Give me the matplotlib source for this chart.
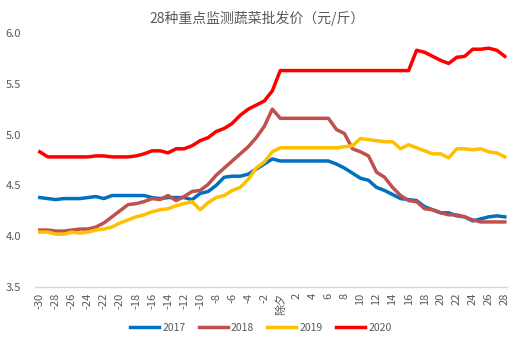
import matplotlib
matplotlib.use("Agg")
import matplotlib.pyplot as plt

plt.rcParams["font.family"] = ["Noto Sans CJK SC", "DejaVu Sans"]

# days relative to 除夕 (Chinese New Year's Eve)
days = list(range(-30, 29))

price_2017 = [4.38, 4.37, 4.36, 4.37, 4.37, 4.37, 4.38, 4.39, 4.37, 4.40,
              4.40, 4.40, 4.40, 4.40, 4.38, 4.37, 4.38, 4.38, 4.38, 4.36,
              4.42, 4.44, 4.50, 4.58, 4.59, 4.59, 4.61, 4.66, 4.71, 4.76,
              4.74, 4.74, 4.74, 4.74, 4.74, 4.74, 4.74, 4.71, 4.67, 4.62,
              4.57, 4.55, 4.48, 4.45, 4.41, 4.37, 4.36, 4.35, 4.29, 4.26,
              4.23, 4.23, 4.20, 4.19, 4.15, 4.17, 4.19, 4.20, 4.19]
price_2018 = [4.06, 4.06, 4.05, 4.05, 4.06, 4.07, 4.07, 4.09, 4.13, 4.19,
              4.25, 4.31, 4.32, 4.34, 4.37, 4.36, 4.40, 4.35, 4.39, 4.44,
              4.45, 4.51, 4.60, 4.67, 4.74, 4.81, 4.88, 4.97, 5.08, 5.25,
              5.16, 5.16, 5.16, 5.16, 5.16, 5.16, 5.16, 5.05, 5.01, 4.86,
              4.83, 4.79, 4.63, 4.58, 4.48, 4.40, 4.35, 4.34, 4.27, 4.26,
              4.23, 4.21, 4.21, 4.19, 4.16, 4.14, 4.14, 4.14, 4.14]
price_2019 = [4.04, 4.04, 4.02, 4.02, 4.04, 4.03, 4.04, 4.06, 4.07, 4.09,
              4.13, 4.16, 4.19, 4.21, 4.24, 4.26, 4.27, 4.30, 4.32, 4.34,
              4.26, 4.33, 4.38, 4.40, 4.45, 4.48, 4.56, 4.67, 4.73, 4.83,
              4.87, 4.87, 4.87, 4.87, 4.87, 4.87, 4.87, 4.87, 4.88, 4.89,
              4.96, 4.95, 4.94, 4.93, 4.93, 4.86, 4.90, 4.87, 4.84, 4.81,
              4.81, 4.77, 4.86, 4.86, 4.85, 4.86, 4.83, 4.82, 4.78]
price_2020 = [4.83, 4.78, 4.78, 4.78, 4.78, 4.78, 4.78, 4.79, 4.79, 4.78,
              4.78, 4.78, 4.79, 4.81, 4.84, 4.84, 4.82, 4.86, 4.86, 4.89,
              4.94, 4.97, 5.03, 5.06, 5.11, 5.19, 5.25, 5.29, 5.33, 5.43,
              5.63, 5.63, 5.63, 5.63, 5.63, 5.63, 5.63, 5.63, 5.63, 5.63,
              5.63, 5.63, 5.63, 5.63, 5.63, 5.63, 5.63, 5.83, 5.81, 5.77,
              5.73, 5.70, 5.76, 5.77, 5.84, 5.84, 5.85, 5.83, 5.77]

series = [("2017", price_2017, "#0070C0"),
          ("2018", price_2018, "#C0504D"),
          ("2019", price_2019, "#FFC000"),
          ("2020", price_2020, "#FF0000")]

tick_days = [d for d in days if d % 2 == 0]
tick_labels = ["除夕" if d == 0 else str(d) for d in tick_days]

grey = "#595959"

fig = plt.figure(figsize=(5.3, 3.47), dpi=100)
ax = fig.add_axes([0.066, 0.173, 0.891, 0.732])

for name, vals, color in series:
    ax.plot(days, vals, color=color, lw=2.5, label=name, solid_joinstyle="round")

ax.set_xlim(-30.6, 28.3)
ax.set_ylim(3.5, 6.0)
ax.set_yticks([3.5, 4.0, 4.5, 5.0, 5.5, 6.0])
ax.set_yticklabels(["3.5", "4.0", "4.5", "5.0", "5.5", "6.0"])
ax.set_xticks(tick_days)
ax.set_xticklabels(tick_labels, rotation=90)
ax.tick_params(axis="both", length=0, labelsize=8, colors=grey)
ax.tick_params(axis="y", pad=10)
ax.tick_params(axis="x", pad=4)

for side in ["top", "right", "left"]:
    ax.spines[side].set_visible(False)
ax.spines["bottom"].set_color("#D9D9D9")
ax.spines["bottom"].set_linewidth(1)

fig.suptitle("28种重点监测蔬菜批发价（元/斤）", x=0.485, y=0.968,
             fontsize=10, color=grey)

leg = fig.legend(loc="center", bbox_to_anchor=(0.492, 0.056), ncol=4,
                 frameon=False, fontsize=7.5, handlelength=2.8,
                 handletextpad=0.3, columnspacing=1.25)
for t in leg.get_texts():
    t.set_color(grey)

fig.savefig("out.png", dpi=100)
